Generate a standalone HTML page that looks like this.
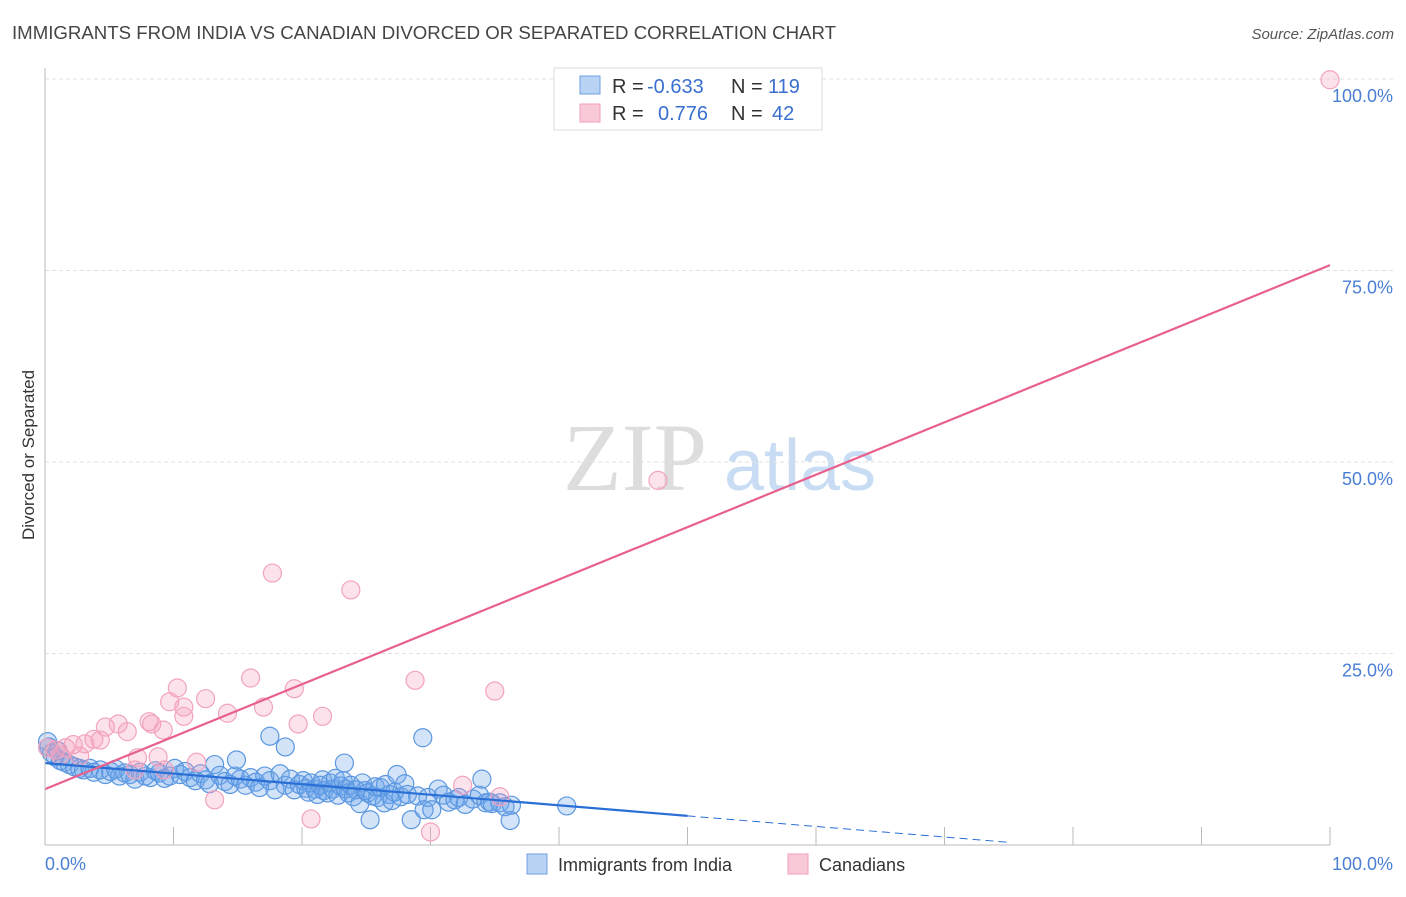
<!DOCTYPE html>
<html><head><meta charset="utf-8"><style>
body{margin:0;background:#fff;font-family:"Liberation Sans",sans-serif}
</style></head><body>
<svg width="1406" height="892" xmlns="http://www.w3.org/2000/svg">
<text x="12" y="39" font-size="18" fill="#444" textLength="824" lengthAdjust="spacingAndGlyphs">IMMIGRANTS FROM INDIA VS CANADIAN DIVORCED OR SEPARATED CORRELATION CHART</text>
<text x="1394" y="39" font-size="15" fill="#555" font-style="italic" text-anchor="end">Source: ZipAtlas.com</text>
<text transform="translate(34,455) rotate(-90)" font-size="17" fill="#333" text-anchor="middle">Divorced or Separated</text>
<g>
<text x="635" y="490" font-size="96" font-family="Liberation Serif,serif" fill="#ddd" text-anchor="middle">ZIP</text>
<text x="800" y="490" font-size="72" fill="#c8dcf3" text-anchor="middle">atlas</text></g>
<g id="grid"></g><g id="pts"></g><g id="trend"></g>
<line x1="45" y1="68" x2="45" y2="845" stroke="#bbb"/>
<line x1="45" y1="845" x2="1330" y2="845" stroke="#bbb"/>
<text x="45" y="870" font-size="18" fill="#4a7fd4">0.0%</text>
<text x="1393" y="870" font-size="18" fill="#4a7fd4" text-anchor="end">100.0%</text>
<g>
<rect x="554" y="68" width="268" height="62" fill="#fff" stroke="#ddd"/>
<rect x="580" y="76" width="20" height="18" fill="#b9d3f4" stroke="#6fa1e6"/>
<rect x="580" y="104" width="20" height="18" fill="#f9c9d8" stroke="#f0a0bc"/>
<text x="612" y="93" font-size="20" fill="#333">R =</text>
<text x="647" y="93" font-size="20" fill="#3a6fd0">-0.633</text>
<text x="731" y="93" font-size="20" fill="#333">N =</text>
<text x="768" y="93" font-size="20" fill="#3a6fd0">119</text>
<text x="612" y="120" font-size="20" fill="#333">R =</text>
<text x="658" y="120" font-size="20" fill="#3a6fd0">0.776</text>
<text x="731" y="120" font-size="20" fill="#333">N =</text>
<text x="772" y="120" font-size="20" fill="#3a6fd0">42</text>
</g>
<g>
<rect x="527" y="854" width="20" height="20" fill="#b9d3f4" stroke="#6fa1e6"/>
<text x="558" y="871" font-size="18" fill="#333">Immigrants from India</text>
<rect x="788" y="854" width="20" height="20" fill="#f9c9d8" stroke="#f0a0bc"/>
<text x="819" y="871" font-size="18" fill="#333">Canadians</text>
</g>
</svg>
<script>
const yTicks=[25,50,75,100];
const yTickLabels=["25.0%","50.0%","75.0%","100.0%"];
const xTicks=[0,10,20,30,40,50,60,70,80,90,100];
const indiaX=[0.2,0.3,0.5,0.8,1,1.2,1.5,1.9,2.3,2.7,3,3.5,3.8,4.3,4.7,5.1,5.5,5.8,6.2,6.6,7,7.4,7.8,8.2,8.6,8.9,9.3,9.7,10.1,10.5,10.9,11.3,11.7,12.1,12.5,12.8,13.2,13.6,14,14.4,14.8,15.2,15.6,16,16.4,16.7,17.1,17.5,17.9,18.3,18.7,19.1,19.4,19.8,20.1,20.3,20.5,20.7,21,21.2,21.4,21.6,21.7,22,22.2,22.4,22.6,22.8,23,23.2,23.4,23.6,23.8,24,24.2,24.5,24.7,24.9,25.1,25.3,25.5,25.7,25.9,26.1,26.4,26.5,26.8,27,27.2,27.4,27.7,28,28.2,28.5,29,29.5,29.8,30.1,30.6,31,31.4,31.9,32.2,32.7,33.3,33.8,34,34.3,34.6,34.8,35.4,35.8,36.2,36.3,17.5,18.7,29.4,23.3,14.9,40.6];
const indiaY=[13.5,12.8,12,11.5,12.3,11,10.8,10.5,10.2,10,9.8,10,9.5,9.8,9.2,9.6,9.9,9,9.4,9.2,8.6,9.5,9,8.8,9.7,9.4,8.7,9,10,9.2,9.6,8.8,8.4,9.3,8.5,8,10.5,9.1,8.3,7.9,9,8.6,7.8,8.8,8.2,7.5,9,8.4,7.2,9.3,7.8,8.6,7.2,7.9,8.4,7.4,6.9,8.1,7.3,6.6,7.8,8.5,7.1,6.8,8.1,7.3,8.7,6.5,7.7,8.4,7.3,6.8,7.8,6.3,7.2,5.4,8.1,7.1,6.8,3.3,6.4,7.6,6.2,7.5,5.5,7.9,6.6,5.8,6.9,9.2,6.3,8,6.6,3.3,6.4,4.6,6.2,4.6,7.3,6.5,5.6,5.9,6.2,5.3,6,6.5,8.6,5.5,5.6,5.4,5.5,5,3.2,5.2,14.2,12.8,14,10.7,11.1,5.1];
const canX=[100,47.7,17.7,23.8,28.8,35,16,19.4,10.3,12.5,9.7,10.8,17,14.2,21.6,10.8,8.1,8.3,9.2,19.7,4.7,5.7,6.4,4.3,3.8,3.1,2.2,1.6,0.8,0.2,1.2,2.7,7.2,8.8,11.8,7,9.3,32.5,35.4,13.2,20.7,30];
const canY=[99.9,47.6,35.5,33.3,21.5,20.1,21.8,20.4,20.5,19.1,18.7,18,18,17.2,16.8,16.8,16.1,15.8,15,15.8,15.4,15.8,14.8,13.7,13.8,13.2,13.1,12.7,12.4,12.7,11.7,11.6,11.4,11.5,10.8,9.8,9.8,7.8,6.3,5.9,3.4,1.7];
const indiaTrend=[10.7,-0.138];
const canTrend=[7.3,0.684];
const X=v=>45+v*12.85, Y=v=>845-v*7.66;
const NS="http://www.w3.org/2000/svg";
function mk(p,t,a){const e=document.createElementNS(NS,t);for(const k in a)e.setAttribute(k,a[k]);p.appendChild(e);return e;}
const grid=document.getElementById('grid');
yTicks.forEach((t,i)=>{
 const l=mk(grid,'line',{x1:45,x2:1394,y1:Y(t),y2:Y(t),stroke:'#e2e2e2','stroke-dasharray':'4,3'});
 
 
 const tx=mk(grid,'text',{x:1393,y:Y(t)+23,'font-size':18,fill:'#4a7fd4','text-anchor':'end'});
 tx.textContent=yTickLabels[i];
 
 
});
xTicks.forEach(t=>{
 const l=mk(grid,'line',{x1:X(t),x2:X(t),y1:827,y2:845,stroke:'#bbb'});
 
 
});
const pts=document.getElementById('pts');
indiaX.forEach((x,i)=>{
 const c=mk(pts,'circle',{cx:X(x),cy:Y(indiaY[i]),r:9,fill:'rgba(110,165,235,0.3)',stroke:'#5b97e0','stroke-width':1.2});
 
 
});
canX.forEach((x,i)=>{
 const c=mk(pts,'circle',{cx:X(x),cy:Y(canY[i]),r:9,fill:'rgba(245,160,190,0.3)',stroke:'#f2a3be','stroke-width':1.2});
 
 
});
const tr=document.getElementById('trend');
const f=(p,x)=>p[0]+p[1]*x;
let l1=mk(tr,'line',{x1:X(0),y1:Y(f(indiaTrend,0)),x2:X(50),y2:Y(f(indiaTrend,50)),stroke:'#2a6fd6','stroke-width':2.2});


let l2=mk(tr,'line',{x1:X(50),y1:Y(f(indiaTrend,50)),x2:X(75),y2:Y(f(indiaTrend,75)),stroke:'#2a6fd6','stroke-width':1,'stroke-dasharray':'8,5'});


let l3=mk(tr,'line',{x1:X(0),y1:Y(f(canTrend,0)),x2:X(100),y2:Y(f(canTrend,100)),stroke:'#e8608c','stroke-width':2.2});


</script>
</body></html>
